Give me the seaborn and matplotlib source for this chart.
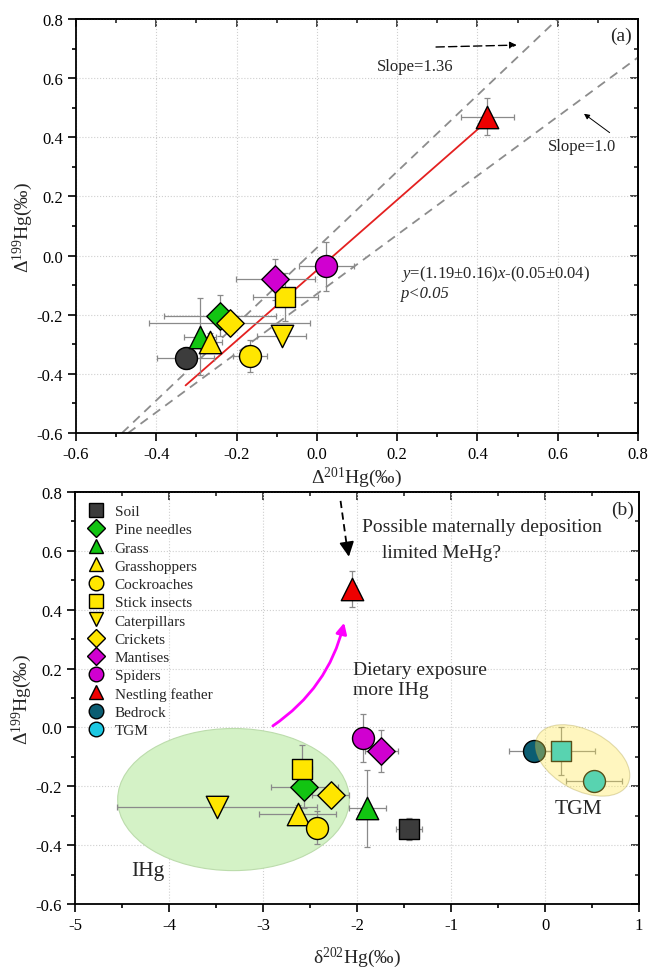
import numpy as np
import pandas as pd
import seaborn as sns
import matplotlib
matplotlib.use("Agg")
import matplotlib.pyplot as plt
from matplotlib.lines import Line2D
from matplotlib.patches import Ellipse
from matplotlib.ticker import MultipleLocator
from matplotlib.transforms import Affine2D

# ---- data ----
groups = ["Soil", "Pine needles", "Grass", "Grasshoppers", "Cockroaches",
          "Stick insects", "Caterpillars", "Crickets", "Mantises", "Spiders",
          "Nestling feather"]
colors = ["#3c3c3c", "#12c412", "#12c412", "#ffe600", "#ffe600",
          "#ffe600", "#ffe600", "#ffe600", "#d000d0", "#d000d0", "#ee0000"]
markers_b = ["s", "D", "^", "^", "o", "s", "v", "D", "D", "o", "^"]
markers_a = ["o", "D", "^", "^", "o", "s", "v", "D", "D", "o", "^"]

d199 = [-0.345, -0.203, -0.275, -0.293, -0.340, -0.140, -0.272, -0.228, -0.080, -0.036, 0.470]
d199_err = [0.037, 0.070, 0.130, 0.030, 0.055, 0.082, 0.010, 0.020, 0.070, 0.083, 0.062]
d201 = [-0.327, -0.241, -0.291, -0.266, -0.166, -0.079, -0.088, -0.217, -0.103, 0.024, 0.425]
d201_err = [0.070, 0.140, 0.040, 0.030, 0.042, 0.081, 0.060, 0.200, 0.099, 0.068, 0.067]
d202 = [-1.45, -2.56, -1.89, -2.63, -2.43, -2.58, -3.49, -2.28, -1.74, -1.94, -2.05]
d202_err = [0.14, 0.36, 0.20, 0.41, 0.05, 0.10, 1.06, 0.20, 0.18, 0.03, 0.03]

# sources shown only in panel (b)
src_names = ["Bedrock", "TGM", "TGM"]
src_colors = ["#0b5d72", "#00c8e8", "#00c8e8"]
src_markers = ["o", "s", "o"]
src_d202 = [-0.12, 0.17, 0.52]
src_d202_err = [0.26, 0.36, 0.30]
src_d199 = [-0.079, -0.080, -0.181]
src_d199_err = [0.0, 0.080, 0.030]

fit_slope, fit_icpt = 1.19, -0.05
ref_lines = [(1.29, 0.026), (1.0, -0.13)]

df = pd.DataFrame({"group": groups, "d199": d199, "d199_err": d199_err,
                   "d201": d201, "d201_err": d201_err,
                   "d202": d202, "d202_err": d202_err,
                   "color": colors, "ma": markers_a, "mb": markers_b})
src = pd.DataFrame({"group": src_names, "d202": src_d202, "d202_err": src_d202_err,
                    "d199": src_d199, "d199_err": src_d199_err,
                    "color": src_colors, "mb": src_markers})

sns.set_style("ticks")
plt.rcParams["font.family"] = ["Liberation Serif", "DejaVu Serif"]
plt.rcParams["mathtext.fontset"] = "custom"
plt.rcParams["mathtext.rm"] = "Liberation Serif"
plt.rcParams["mathtext.it"] = "Liberation Serif:italic"
plt.rcParams["axes.unicode_minus"] = False

MSIZE = {"o": 250, "s": 200, "^": 260, "v": 260, "D": 195}


def dress(ax, xmaj, xmin, ymaj, ymin):
    ax.xaxis.set_major_locator(MultipleLocator(xmaj))
    ax.xaxis.set_minor_locator(MultipleLocator(xmin))
    ax.yaxis.set_major_locator(MultipleLocator(ymaj))
    ax.yaxis.set_minor_locator(MultipleLocator(ymin))
    ax.tick_params(which="both", direction="out", width=1.2, labelsize=12, colors="black")
    ax.tick_params(which="major", length=6)
    ax.tick_params(which="minor", length=3)
    for s in ax.spines.values():
        s.set_linewidth(1.3)
        s.set_color("black")
    ax.grid(False, which="minor")
    ax.grid(True, which="major", ls=":", color="#cfcfcf", lw=0.8)
    ax.set_axisbelow(True)
    top = ax.secondary_xaxis("top")
    top.xaxis.set_major_locator(MultipleLocator(xmaj))
    top.xaxis.set_minor_locator(MultipleLocator(xmin))
    top.tick_params(which="both", direction="in", labeltop=False, width=1.2)
    top.tick_params(which="major", length=6)
    top.tick_params(which="minor", length=3)
    top.spines["top"].set_linewidth(1.3)
    right = ax.secondary_yaxis("right")
    right.yaxis.set_major_locator(MultipleLocator(ymaj))
    right.yaxis.set_minor_locator(MultipleLocator(ymin))
    right.tick_params(which="both", direction="in", labelright=False, width=1.2)
    right.tick_params(which="major", length=6)
    right.tick_params(which="minor", length=3)
    right.spines["right"].set_linewidth(1.3)


def draw_points(ax, data, xcol, mcol, zo=4):
    for _, r in data.iterrows():
        ax.errorbar(r[xcol], r["d199"], xerr=r[xcol + "_err"], yerr=r["d199_err"],
                    fmt="none", ecolor="#8a8a8a", elinewidth=0.9, capsize=2.5,
                    capthick=0.9, zorder=zo - 1)
        sns.scatterplot(x=[r[xcol]], y=[r["d199"]], marker=r[mcol], s=MSIZE[r[mcol]],
                        color=r["color"], edgecolor="black", linewidth=1.0,
                        ax=ax, legend=False, zorder=zo)


fig = plt.figure(figsize=(6.51, 9.70), dpi=100)
ax1 = fig.add_axes([0.1167, 0.5526, 0.8633, 0.4268])
ax2 = fig.add_axes([0.1152, 0.0670, 0.8664, 0.4247])

# ---------------- panel (a) ----------------
ax1.set_xlim(-0.6, 0.8)
ax1.set_ylim(-0.6, 0.8)
dress(ax1, 0.2, 0.1, 0.2, 0.1)
for m, b in ref_lines:
    ax1.axline((0, b), slope=m, color="#8c8c8c", lw=1.3, ls=(0, (5, 3.5)), zorder=2)
xf = np.linspace(min(d201), max(d201), 50)
ax1.plot(xf, fit_slope * xf + fit_icpt, color="#e42020", lw=1.3, zorder=2.5)
draw_points(ax1, df, "d201", "ma")

ax1.annotate("", xy=(0.505, 0.712), xytext=(0.29, 0.705),
             arrowprops=dict(arrowstyle="-|>", color="black", lw=1.0, ls=(0, (6, 3)),
                             mutation_scale=10))
ax1.annotate("", xy=(0.66, 0.485), xytext=(0.735, 0.41),
             arrowprops=dict(arrowstyle="-|>", color="black", lw=0.7, mutation_scale=8))
ax1.text(0.245, 0.642, "Slope=1.36", fontsize=12, ha="center", va="center")
ax1.text(0.66, 0.372, "Slope=1.0", fontsize=12, ha="center", va="center")
ax1.text(0.21, -0.058, r"$y$=(1.19±0.16)$x$-(0.05±0.04)", fontsize=12, va="center")
ax1.text(0.21, -0.126, "p<0.05", fontsize=12, va="center", style="italic")
ax1.text(0.785, 0.745, "(a)", fontsize=14, ha="right", va="center")
ax1.set_xlabel("Δ$^{201}$Hg(‰)", fontsize=14, labelpad=2)
ax1.set_ylabel("Δ$^{199}$Hg(‰)", fontsize=14, labelpad=1)

# ---------------- panel (b) ----------------
ax2.set_xlim(-5, 1)
ax2.set_ylim(-0.6, 0.8)
dress(ax2, 1, 0.5, 0.2, 0.1)
ax2.add_patch(Ellipse((-3.314, -0.245), 2.464, 0.483, facecolor="#d4f2c6",
                      edgecolor="#bcdcac", lw=0.8, zorder=1.5))
draw_points(ax2, df, "d202", "mb")
draw_points(ax2, src, "d202", "mb")

# tilted TGM ellipse, drawn in pixels so the tilt is not distorted
fig.canvas.draw()
cx, cy = ax2.transData.transform((0.40, -0.112))
ax2.add_patch(Ellipse((0, 0), 102, 60, angle=-28, facecolor="#ffe84a", alpha=0.35,
                      edgecolor="#a89a40", lw=0.8, zorder=6,
                      transform=Affine2D().translate(cx, cy)))

ax2.annotate("", xy=(-2.13, 0.365), xytext=(-2.92, 0.0),
             arrowprops=dict(arrowstyle="-|>", color="#ff00ff", lw=2.0,
                             connectionstyle="arc3,rad=0.2", mutation_scale=16))
ax2.plot([-2.175, -2.11], [0.77, 0.62], color="black", lw=1.3, ls=(0, (4, 2.5)))
ax2.annotate("", xy=(-2.082, 0.571), xytext=(-2.11, 0.63),
             arrowprops=dict(arrowstyle="-|>", color="black", lw=1.3, mutation_scale=22))
ax2.text(-1.95, 0.682, "Possible maternally deposition", fontsize=14, va="center")
ax2.text(-1.73, 0.596, "limited MeHg?", fontsize=14, va="center")
ax2.text(-2.04, 0.198, "Dietary exposure", fontsize=14, va="center")
ax2.text(-2.04, 0.130, "more IHg", fontsize=14, va="center")
ax2.text(-4.4, -0.487, "IHg", fontsize=15.5, va="center")
ax2.text(0.1, -0.277, "TGM", fontsize=15.5, va="center")
ax2.text(0.95, 0.74, "(b)", fontsize=14, ha="right", va="center")
ax2.set_xlabel("δ$^{202}$Hg(‰)", fontsize=14, labelpad=8)
ax2.set_ylabel("Δ$^{199}$Hg(‰)", fontsize=14, labelpad=1)

leg_names = groups + ["Bedrock", "TGM"]
leg_colors = colors + ["#0b5d72", "#1cc8e2"]
leg_markers = markers_b + ["o", "o"]
handles = [Line2D([], [], ls="none", marker=m, color=c, markeredgecolor="black",
                  markeredgewidth=1.0, markersize=(9 if m == "D" else 10.5))
           for m, c in zip(leg_markers, leg_colors)]
ax2.legend(handles, leg_names, loc="upper left", bbox_to_anchor=(0.0, 1.0),
           frameon=False, fontsize=11, labelspacing=0.3, handlelength=1.2,
           handletextpad=0.6, borderaxespad=0.4)

fig.savefig("out.png", dpi=100)
